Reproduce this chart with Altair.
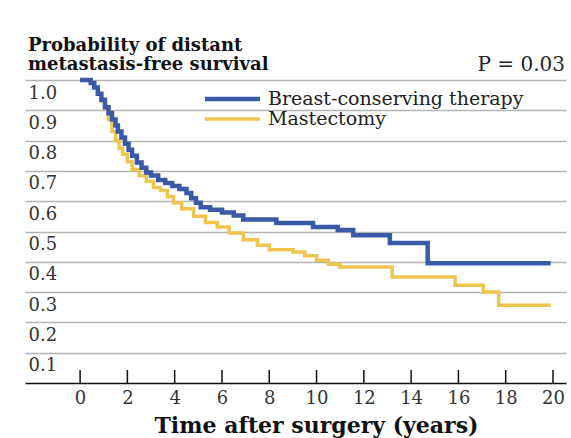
import altair as alt
import pandas as pd

# Kaplan-Meier style survival estimates (years after surgery, survival probability)
bct_years = [0, 0.45, 0.6, 0.75, 0.9, 1.05, 1.2, 1.35, 1.5, 1.6, 1.75, 1.9, 2.05, 2.2,
             2.4, 2.6, 2.8, 3.0, 3.3, 3.6, 3.9, 4.2, 4.5, 4.7, 4.9, 5.1, 5.5, 6.0,
             6.5, 6.9, 8.3, 9.85, 10.9, 11.55, 13.1, 14.7, 19.9]
bct_surv = [1.0, 0.99, 0.975, 0.955, 0.935, 0.91, 0.89, 0.87, 0.85, 0.83, 0.81, 0.79,
            0.77, 0.75, 0.728, 0.71, 0.695, 0.685, 0.67, 0.66, 0.65, 0.64, 0.627,
            0.61, 0.595, 0.58, 0.572, 0.563, 0.553, 0.54, 0.528, 0.515, 0.505,
            0.488, 0.462, 0.395, 0.395]

mast_years = [0, 0.45, 0.6, 0.75, 0.9, 1.05, 1.2, 1.35, 1.5, 1.65, 1.8, 2.0, 2.2, 2.5,
              2.8, 3.1, 3.4, 3.7, 3.95, 4.3, 4.8, 5.3, 5.8, 6.3, 6.9, 7.5, 8.0, 9.0,
              9.5, 10.0, 10.5, 11.0, 13.2, 15.86, 17.05, 17.7, 19.9]
mast_surv = [1.0, 0.99, 0.975, 0.955, 0.93, 0.905, 0.87, 0.83, 0.80, 0.775, 0.755,
             0.73, 0.705, 0.685, 0.665, 0.645, 0.635, 0.615, 0.595, 0.575, 0.55,
             0.53, 0.515, 0.495, 0.473, 0.455, 0.44, 0.432, 0.42, 0.405, 0.392,
             0.383, 0.35, 0.323, 0.30, 0.257, 0.257]

series_names = ["Breast-conserving therapy", "Mastectomy"]
series_colors = ["#3a5aa6", "#efc54f"]

x_ticks = [0, 2, 4, 6, 8, 10, 12, 14, 16, 18, 20]
y_ticks = [0.1, 0.2, 0.3, 0.4, 0.5, 0.6, 0.7, 0.8, 0.9, 1.0]

title_lines = ["Probability of distant", "metastasis-free survival"]
p_value_text = "P = 0.03"
x_title = "Time after surgery (years)"

W, H = 541, 303
SERIF = "DejaVu Serif"

bct = pd.DataFrame({"t": bct_years, "s": bct_surv, "group": series_names[0]})
mast = pd.DataFrame({"t": mast_years, "s": mast_surv, "group": series_names[1]})
ticks_df = pd.DataFrame({"t": x_ticks})

x_scale = alt.Scale(domain=[-2.33, 20.55], nice=False, zero=False)
y_scale = alt.Scale(domain=[0, 1], nice=False)

x_axis = alt.Axis(values=x_ticks, ticks=False, grid=False, domainColor="#111",
                  domainWidth=1.5, labelFont=SERIF, labelFontSize=18,
                  labelColor="#333", labelPadding=6, title=x_title,
                  titleFont=SERIF, titleFontSize=22, titleFontWeight="bold",
                  titleColor="#111", titleX=291, titleY=42,
                  titleBaseline="middle", titleAlign="center")
y_axis = alt.Axis(values=y_ticks, format=".1f", ticks=False, domain=False,
                  grid=True, gridColor="#b4b4b4", gridWidth=1.5,
                  labelAlign="left", labelBaseline="top", labelPadding=-3,
                  labelOffset=4, labelFont=SERIF, labelFontSize=18,
                  labelColor="#333", title=None)

def curve(df, color, width):
    return alt.Chart(df).mark_line(interpolate="step-after", color=color,
                                   strokeWidth=width).encode(
        x=alt.X("t:Q", scale=x_scale, axis=x_axis),
        y=alt.Y("s:Q", scale=y_scale, axis=y_axis),
    )

tick_marks = alt.Chart(ticks_df).mark_rule(color="#111", strokeWidth=1.5).encode(
    x=alt.X("t:Q", scale=x_scale),
    y=alt.value(H - 13),
    y2=alt.value(H),
)

layers = [curve(mast, series_colors[1], 3.5), curve(bct, series_colors[0], 4.5), tick_marks]

# legend rows drawn by hand: swatch line + label
for i, (name, color) in enumerate(zip(series_names, series_colors)):
    yy = 19 + 20 * i
    layers.append(alt.Chart(pd.DataFrame({"g": [name]})).mark_rule(
        color=color, strokeWidth=4.5 if i == 0 else 3.5).encode(
        x=alt.value(180), x2=alt.value(235), y=alt.value(yy)))
    layers.append(alt.Chart(pd.DataFrame({"g": [name]})).mark_text(
        font=SERIF, fontSize=19, color="#222", align="left",
        baseline="middle").encode(
        x=alt.value(243), y=alt.value(yy), text="g:N"))

# two-line heading and p-value above the plot
for i, line in enumerate(title_lines):
    layers.append(alt.Chart(pd.DataFrame({"txt": [line]})).mark_text(
        font=SERIF, fontSize=18, fontWeight="bold", color="#111", align="left",
        baseline="alphabetic").encode(
        x=alt.value(3), y=alt.value(-29 + 19 * i), text="txt:N"))
layers.append(alt.Chart(pd.DataFrame({"txt": [p_value_text]})).mark_text(
    font=SERIF, fontSize=20, color="#222", align="right",
    baseline="alphabetic").encode(
    x=alt.value(540), y=alt.value(-9), text="txt:N"))

chart = alt.layer(*layers).properties(
    width=W, height=H,
    autosize=alt.AutoSizeParams(type="none"),
    padding={"left": 25, "top": 80, "right": 5, "bottom": 55},
    background="white",
).configure_view(stroke=None)

chart.save("out.html", embed_options={"renderer": "svg", "actions": False})
